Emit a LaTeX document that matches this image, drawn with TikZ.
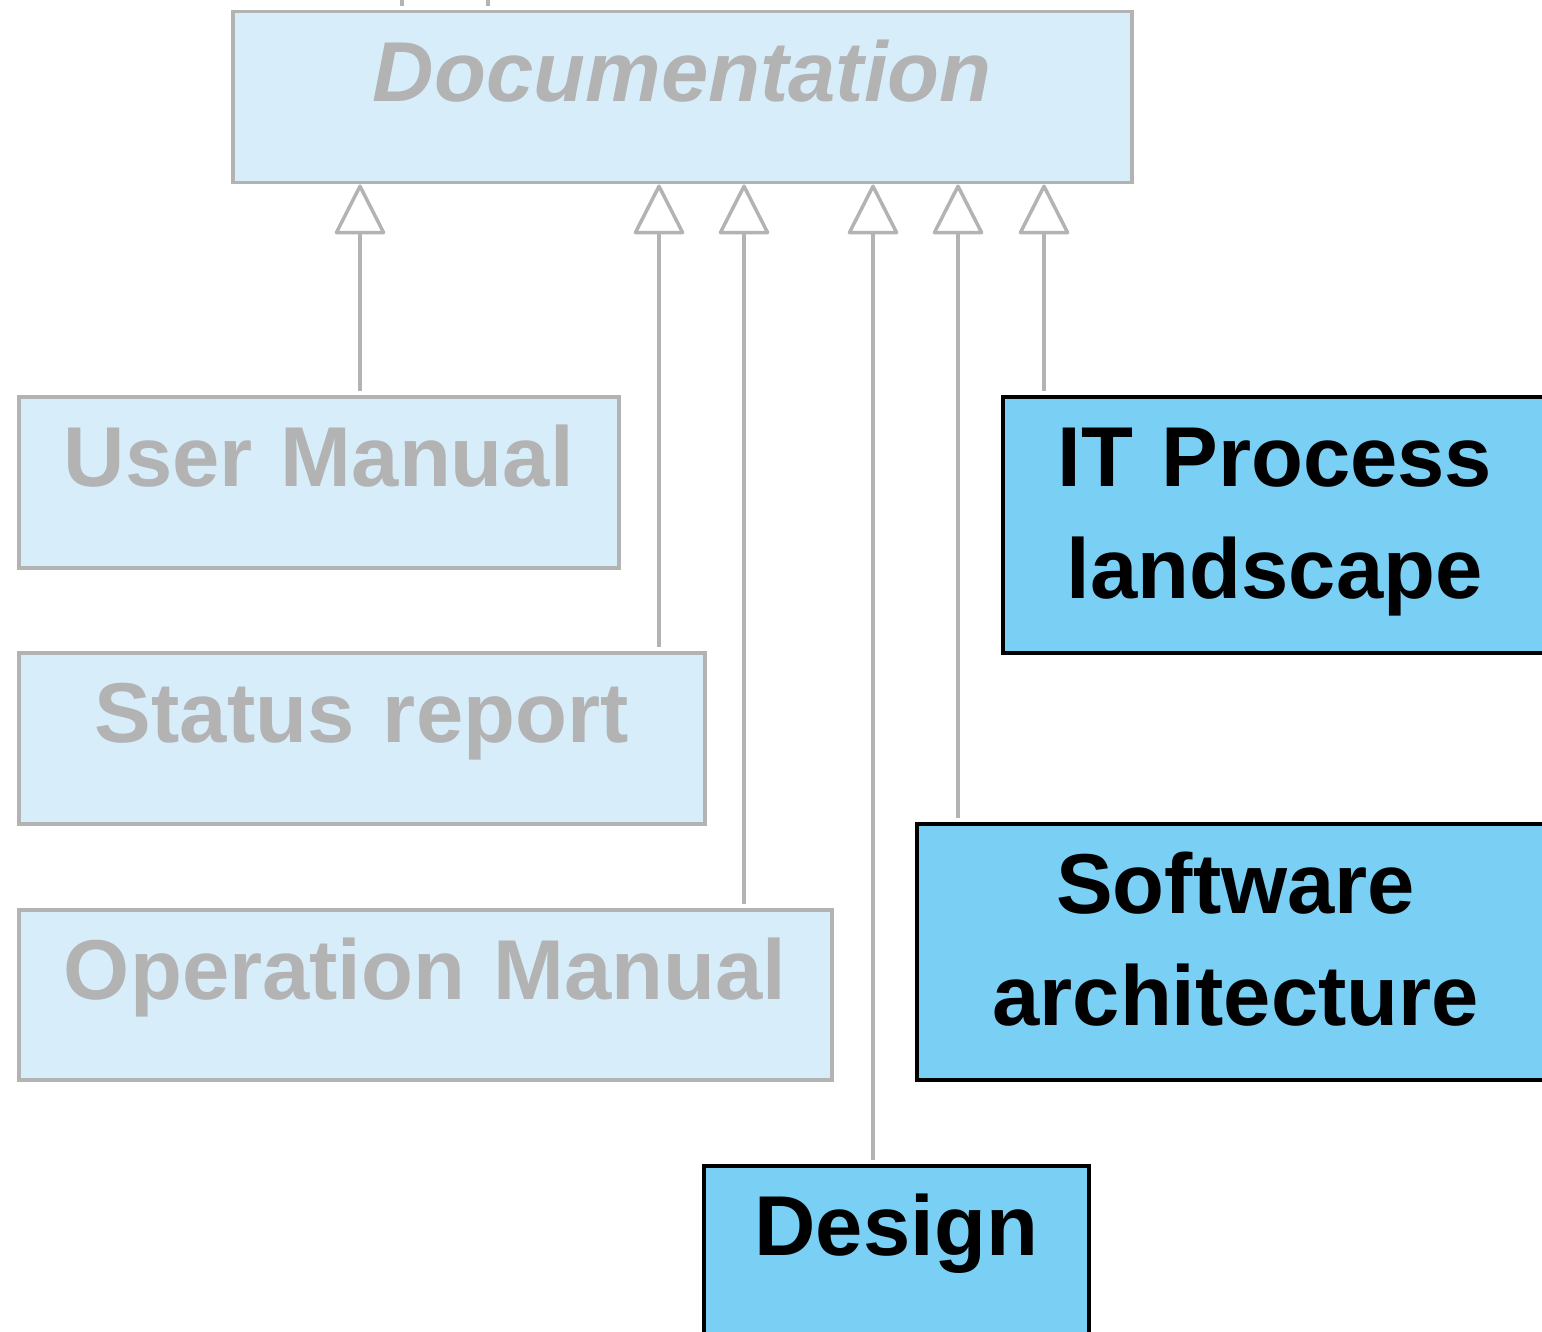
\documentclass[tikz,border=0pt]{standalone}
\usepackage{fontspec}
\setmainfont{Liberation Sans}
\usepackage{tikz}
\usetikzlibrary{arrows.meta, positioning}

\definecolor{umlgray}{HTML}{B3B3B3}
\definecolor{umllight}{HTML}{D7EEFA}
\definecolor{umldark}{HTML}{7ACFF4}
\newcommand{\clsfont}{\fontsize{85}{112}\selectfont\bfseries}

\begin{document}
\begin{tikzpicture}[
  x=1pt, y=-1pt,
  cls/.style={anchor=north west, inner sep=0pt, align=center, text height=90pt, font=\clsfont},
  lightcls/.style={cls, draw=umlgray, line width=3.5pt, fill=umllight, text=umlgray},
  darkcls/.style={cls, draw=black, line width=3.5pt, fill=umldark, text=black},
  gen/.style={draw=umlgray, line width=3.5pt, shorten <=4pt, -{Triangle[open, round, length=52pt, width=52pt]}},
  stub/.style={draw=umlgray, line width=3.5pt, shorten <=4pt}
]

\path[use as bounding box, clip] (0,0) rectangle (1542,1332);

% Classes
\node[lightcls, text width=899pt, text depth=81pt] (doc) at (231,10) {\itshape Documentation};
\node[lightcls, text width=600pt, text depth=81pt] (usermanual) at (17,395) {User Manual};
\node[lightcls, text width=686pt, text depth=81pt] (status) at (17,651) {Status report};
\node[lightcls, text width=813pt, text depth=80pt] (opmanual) at (17,908) {Operation Manual};
\node[darkcls, text width=544pt, text depth=166pt] (itproc) at (1001,395) {IT Process\\landscape};
\node[darkcls, text width=638pt, text depth=166pt] (swarch) at (915,822) {Software\\architecture};
\node[darkcls, text width=385pt, text depth=120pt] (design) at (702,1164) {Design};

% Links leaving the crop at the top
\coordinate (up1) at (402,-10);
\coordinate (up2) at (488,-10);
\draw[stub] (doc.north -| 402,0) -- (up1);
\draw[stub] (doc.north -| 488,0) -- (up2);

% Generalisations
\draw[gen] (usermanual.north -| 360,0) -- (doc.south -| 360,0);
\draw[gen] (status.north -| 659,0) -- (doc.south -| 659,0);
\draw[gen] (opmanual.north -| 744,0) -- (doc.south -| 744,0);
\draw[gen] (design.north -| 873,0) -- (doc.south -| 873,0);
\draw[gen] (swarch.north -| 958,0) -- (doc.south -| 958,0);
\draw[gen] (itproc.north -| 1044,0) -- (doc.south -| 1044,0);

\end{tikzpicture}
\end{document}
